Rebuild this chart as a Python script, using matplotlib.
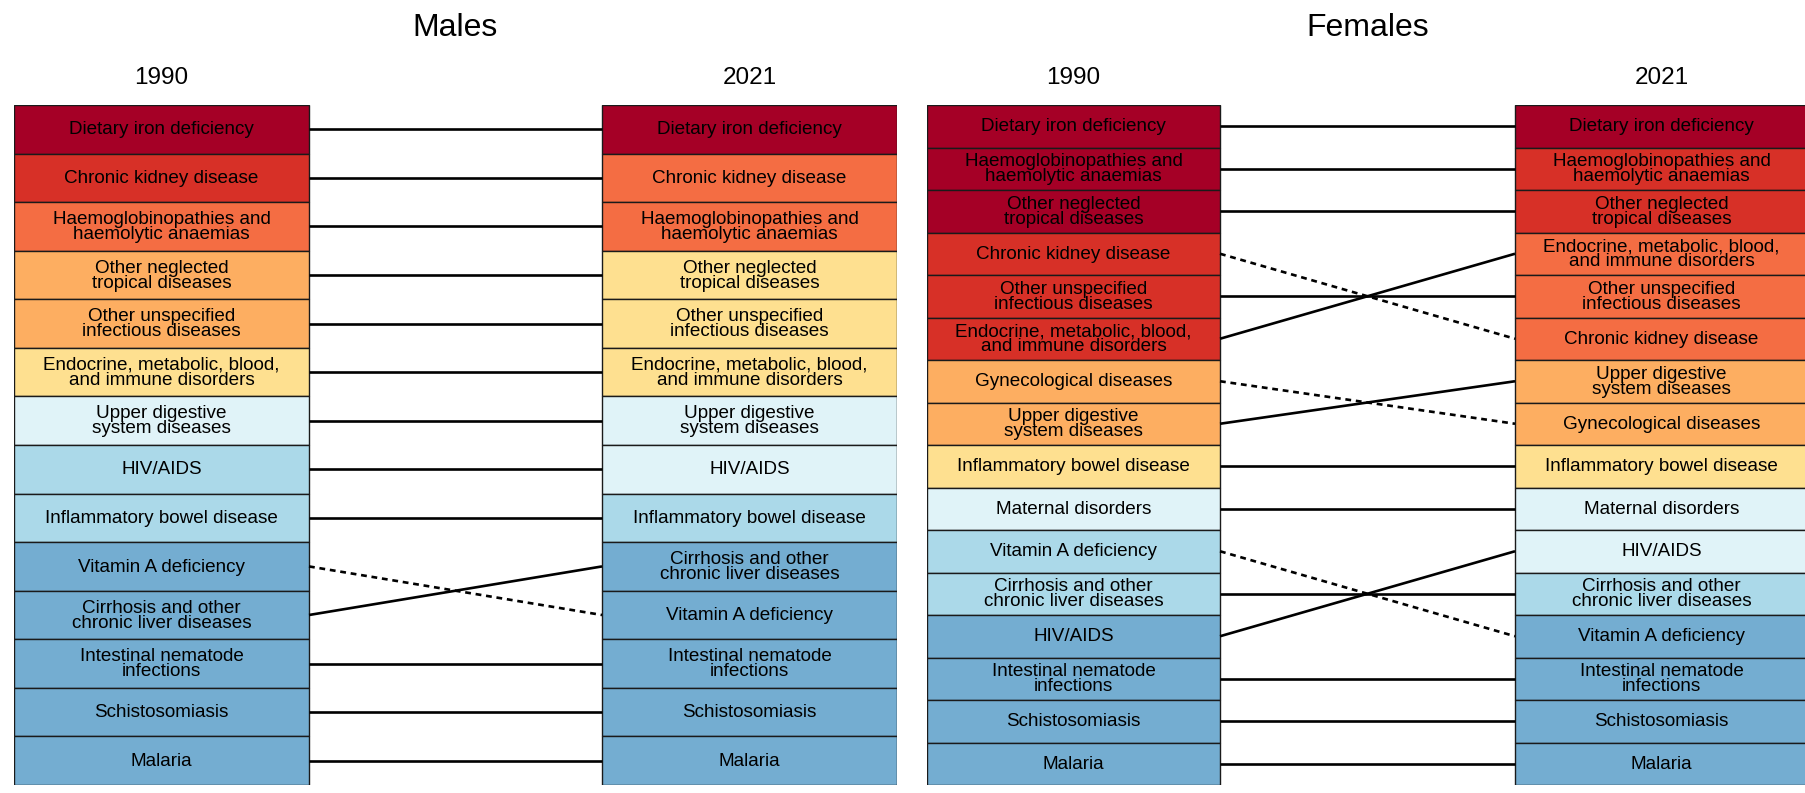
import matplotlib
matplotlib.use('Agg')
import matplotlib.pyplot as plt

plt.rcParams['font.family'] = ['Liberation Sans', 'DejaVu Sans']

# colour scale (level 0 = highest)
palette = ['#A50026', '#D73027', '#F46D43', '#FDAE61', '#FEE090',
           '#E0F3F8', '#ABD9E9', '#74ADD1']

labels = {
    'Dietary iron deficiency': 'Dietary iron deficiency',
    'Chronic kidney disease': 'Chronic kidney disease',
    'Haemoglobinopathies': 'Haemoglobinopathies and\nhaemolytic anaemias',
    'Other NTD': 'Other neglected\ntropical diseases',
    'Other infectious': 'Other unspecified\ninfectious diseases',
    'Endocrine': 'Endocrine, metabolic, blood,\nand immune disorders',
    'Upper digestive': 'Upper digestive\nsystem diseases',
    'HIV/AIDS': 'HIV/AIDS',
    'IBD': 'Inflammatory bowel disease',
    'Vitamin A': 'Vitamin A deficiency',
    'Cirrhosis': 'Cirrhosis and other\nchronic liver diseases',
    'Intestinal nematode': 'Intestinal nematode\ninfections',
    'Schistosomiasis': 'Schistosomiasis',
    'Malaria': 'Malaria',
    'Gynecological': 'Gynecological diseases',
    'Maternal': 'Maternal disorders',
}

males_1990 = ['Dietary iron deficiency', 'Chronic kidney disease', 'Haemoglobinopathies',
              'Other NTD', 'Other infectious', 'Endocrine', 'Upper digestive', 'HIV/AIDS',
              'IBD', 'Vitamin A', 'Cirrhosis', 'Intestinal nematode', 'Schistosomiasis', 'Malaria']
males_1990_level = [0, 1, 2, 3, 3, 4, 5, 6, 6, 7, 7, 7, 7, 7]
males_2021 = ['Dietary iron deficiency', 'Chronic kidney disease', 'Haemoglobinopathies',
              'Other NTD', 'Other infectious', 'Endocrine', 'Upper digestive', 'HIV/AIDS',
              'IBD', 'Cirrhosis', 'Vitamin A', 'Intestinal nematode', 'Schistosomiasis', 'Malaria']
males_2021_level = [0, 2, 2, 4, 4, 4, 5, 5, 6, 7, 7, 7, 7, 7]

females_1990 = ['Dietary iron deficiency', 'Haemoglobinopathies', 'Other NTD',
                'Chronic kidney disease', 'Other infectious', 'Endocrine', 'Gynecological',
                'Upper digestive', 'IBD', 'Maternal', 'Vitamin A', 'Cirrhosis', 'HIV/AIDS',
                'Intestinal nematode', 'Schistosomiasis', 'Malaria']
females_1990_level = [0, 0, 0, 1, 1, 1, 3, 3, 4, 5, 6, 6, 7, 7, 7, 7]
females_2021 = ['Dietary iron deficiency', 'Haemoglobinopathies', 'Other NTD', 'Endocrine',
                'Other infectious', 'Chronic kidney disease', 'Upper digestive', 'Gynecological',
                'IBD', 'Maternal', 'HIV/AIDS', 'Cirrhosis', 'Vitamin A',
                'Intestinal nematode', 'Schistosomiasis', 'Malaria']
females_2021_level = [0, 1, 1, 2, 2, 2, 3, 3, 4, 5, 5, 6, 7, 7, 7, 7]

W, H = 1806, 793
fig = plt.figure(figsize=(W / 100, H / 100), dpi=100)


def panel(x0, x1, box_w, title, old, old_lvl, new, new_lvl):
    ax = fig.add_axes([x0 / W, 8 / H, (x1 - x0) / W, 680 / H])
    n = len(old)
    ax.set_xlim(0, 1)
    ax.set_ylim(n, 0)
    ax.axis('off')
    bw = box_w / (x1 - x0)
    ys = [i + 0.5 for i in range(n)]
    ax.barh(ys, bw, left=0, height=1, color=[palette[l] for l in old_lvl],
            edgecolor='#1a1a1a', linewidth=1)
    ax.barh(ys, bw, left=1 - bw, height=1, color=[palette[l] for l in new_lvl],
            edgecolor='#1a1a1a', linewidth=1)
    dy = 0.6 / (680 / n)  # nudge text down slightly
    for i in range(n):
        ax.text(bw / 2, ys[i] + dy, labels[old[i]], ha='center', va='center',
                fontsize=13.55, linespacing=0.85)
        ax.text(1 - bw / 2, ys[i] + dy, labels[new[i]], ha='center', va='center',
                fontsize=13.55, linespacing=0.85)
    for i, name in enumerate(old):
        j = new.index(name)
        ls = '-' if j <= i else (0, (2.2, 1.8))
        ax.plot([bw, 1 - bw], [i + 0.5, j + 0.5], color='black', lw=1.9, ls=ls,
                solid_capstyle='butt')
    cx = (x0 + x1) / 2 / W
    fig.text(cx, 1 - 28.5 / H, title, ha='center', va='center', fontsize=23)
    fig.text((x0 + box_w / 2) / W, 1 - 77.5 / H, '1990', ha='center', va='center', fontsize=17.5)
    fig.text((x1 - box_w / 2) / W, 1 - 77.5 / H, '2021', ha='center', va='center', fontsize=17.5)


panel(14, 897, 295, 'Males', males_1990, males_1990_level, males_2021, males_2021_level)
panel(927, 1808, 293, 'Females', females_1990, females_1990_level, females_2021, females_2021_level)

fig.savefig('out.png', dpi=100)
